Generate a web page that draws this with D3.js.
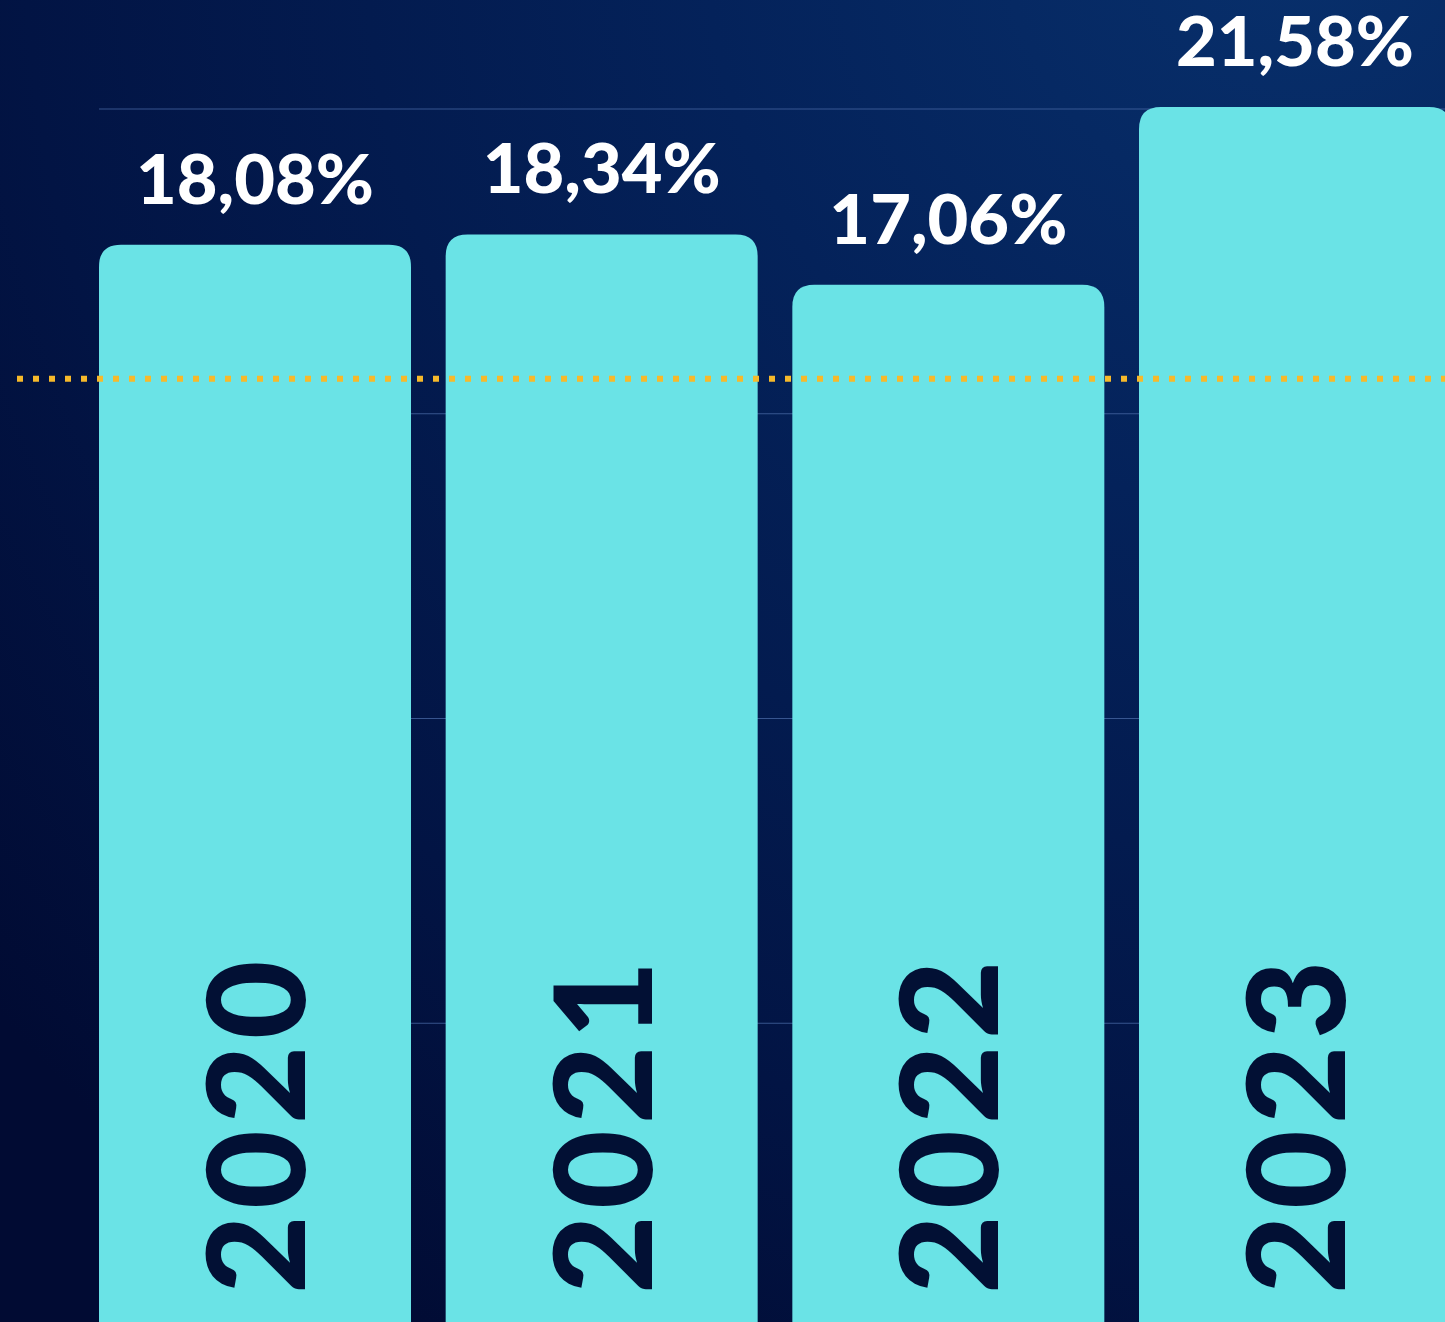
<!DOCTYPE html>
<html>
<head>
<meta charset="utf-8">
<script src="https://cdn.jsdelivr.net/npm/d3@7"></script>
<style>
  html, body { margin: 0; padding: 0; background: #020c34; overflow: hidden; }
  svg { display: block; }
</style>
</head>
<body>
<svg id="chart" width="1445" height="1322"></svg>
<script>
// ---- data ----
const years = ["2020", "2021", "2022", "2023"];
const values = [18.08, 18.34, 17.06, 21.58];
const valueLabels = ["18,08%", "18,34%", "17,06%", "21,58%"];
const referenceValue = 14.67;   // dotted yellow reference line
const gridLines = [0, 1, 2, 3, 4];

// ---- layout ----
const W = 1445, H = 1322;
const svg = d3.select("#chart");
const defs = svg.append("defs");

const bg = defs.append("radialGradient")
  .attr("id", "bg").attr("gradientUnits", "userSpaceOnUse")
  .attr("cx", 1300).attr("cy", -80).attr("r", 1700);
bg.append("stop").attr("offset", "0").attr("stop-color", "#08306c");
bg.append("stop").attr("offset", "0.35").attr("stop-color", "#04225a");
bg.append("stop").attr("offset", "0.75").attr("stop-color", "#021444");
bg.append("stop").attr("offset", "1").attr("stop-color", "#010b33");
svg.append("rect").attr("width", W).attr("height", H).attr("fill", "url(#bg)");

const x = d3.scaleBand().domain(years).range([99, 1451]).paddingInner(0.1);
// linear value scale (zoomed: baseline below the visible area)
const y = d3.scaleLinear().domain([16, 22]).range([326.5, 90.5]);
const grid = d3.scaleLinear().domain([0, 4]).range([109, 1328]);

// gridlines
svg.append("g").selectAll("line").data(gridLines).join("line")
  .attr("x1", 99).attr("x2", W)
  .attr("y1", d => grid(d)).attr("y2", d => grid(d))
  .attr("stroke", "#4a6aa6").attr("stroke-opacity", 0.75).attr("stroke-width", 1.2);

const data = years.map((yr, i) => ({ yr, v: values[i], label: valueLabels[i] }));
const r = 22;
const bw = x.bandwidth();

// bars with rounded top corners
svg.append("g").selectAll("path").data(data).join("path")
  .attr("d", d => {
    const x0 = x(d.yr), x1 = x0 + bw, t = y(d.v), b = H + 10;
    return `M${x0},${b} L${x0},${t + r} Q${x0},${t} ${x0 + r},${t} L${x1 - r},${t} Q${x1},${t} ${x1},${t + r} L${x1},${b} Z`;
  })
  .attr("fill", "#6ae3e6");

// value labels
svg.append("g").selectAll("text").data(data).join("text")
  .attr("x", d => x(d.yr) + bw / 2)
  .attr("y", d => y(d.v) - 41)
  .attr("text-anchor", "middle")
  .attr("font-family", "Lato, 'Open Sans', sans-serif")
  .attr("font-weight", 900)
  .attr("font-size", 68)
  .attr("fill", "#ffffff")
  .attr("textLength", 238).attr("lengthAdjust", "spacingAndGlyphs")
  .text(d => d.label);

// year labels inside bars, rotated
svg.append("g").selectAll("text").data(data).join("text")
  .attr("transform", d => `translate(${x(d.yr) + bw / 2 + 50},1294) rotate(-90)`)
  .attr("text-anchor", "start")
  .attr("font-family", "Lato, 'Open Sans', sans-serif")
  .attr("font-weight", 900)
  .attr("font-size", 136)
  .attr("fill", "#021034")
  .attr("letter-spacing", 6)
  .text(d => d.yr);

// dotted reference line
svg.append("line")
  .attr("x1", 17).attr("x2", W)
  .attr("y1", y(referenceValue)).attr("y2", y(referenceValue))
  .attr("stroke", "#f6b92b").attr("stroke-width", 6)
  .attr("stroke-dasharray", "6 10");
</script>
</body>
</html>
